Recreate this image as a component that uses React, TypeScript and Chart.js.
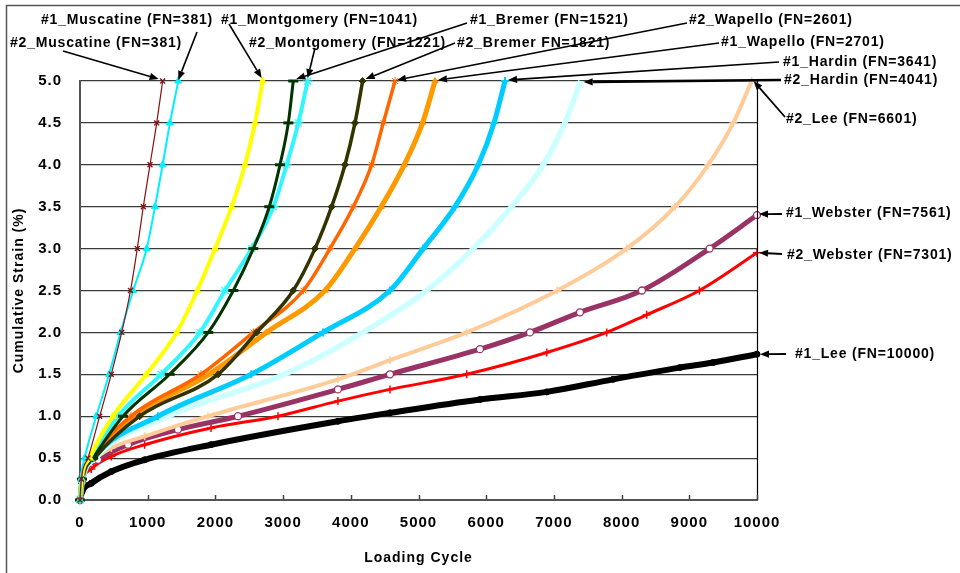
import React, { useEffect, useRef } from "react";
import { Chart, registerables } from "chart.js";

Chart.register(...registerables);

// ---- Data ----
const strainLevels = [0, 0.25, 0.5, 1.0, 1.5, 2.0, 2.5, 3.0, 3.5, 4.0, 4.5, 5.0];

const muscatine2Cycles = [0, 20, 118, 291, 462, 616, 746, 846, 935, 1034, 1133, 1221];
const muscatine1Cycles = [0, 15, 69, 241, 430, 600, 785, 985, 1108, 1221, 1329, 1452];
const montgomery1Cycles = [0, 25, 143, 487, 980, 1428, 1733, 1995, 2240, 2437, 2585, 2698];
const bremer1Cycles = [0, 30, 192, 635, 1325, 1895, 2265, 2560, 2796, 2954, 3077, 3150];
const montgomery2Cycles = [0, 25, 167, 561, 1200, 1772, 2142, 2536, 2856, 3053, 3225, 3363];
const bremer2Cycles = [0, 35, 217, 882, 2040, 2610, 3150, 3471, 3717, 3914, 4062, 4175];
const wapello2Cycles = [0, 30, 177, 753, 1787, 2560, 3298, 3692, 4037, 4308, 4480, 4653];
const wapello1Cycles = [0, 30, 192, 812, 1905, 2757, 3620, 4062, 4450, 4790, 5060, 5244];
const hardin1Cycles = [0, 35, 200, 1152, 2530, 3590, 4579, 5070, 5539, 5883, 6115, 6278];
const hardin2Cycles = [0, 40, 225, 1300, 3020, 4180, 5120, 5809, 6376, 6843, 7163, 7395];

const lee2Cycles = [0, 30, 167, 463, 955, 1890, 3810, 4579, 5712, 7050, 8075, 8790, 9280, 9650, 9921];
const lee2Strain = [0, 0.25, 0.45, 0.62, 0.76, 1.0, 1.44, 1.67, 2.0, 2.5, 3.0, 3.5, 4.0, 4.5, 5.0];

const webster1Cycles = [0, 30, 266, 709, 1447, 2334, 3810, 4579, 5908, 6647, 7385, 8300, 9300, 10000];
const webster1Strain = [0, 0.22, 0.48, 0.66, 0.84, 1.0, 1.32, 1.5, 1.8, 2.0, 2.24, 2.5, 3.0, 3.4];

const webster2Cycles = [0, 30, 167, 463, 955, 1935, 2925, 3810, 4579, 5712, 6895, 7780, 8370, 9150, 10000];
const webster2Strain = [0, 0.2, 0.37, 0.52, 0.66, 0.86, 1.0, 1.18, 1.32, 1.5, 1.76, 2.0, 2.21, 2.5, 2.95];

const lee1Cycles = [0, 30, 167, 463, 955, 1935, 3810, 4579, 5908, 6895, 7875, 8860, 9350, 10000];
const lee1Strain = [0, 0.1, 0.2, 0.34, 0.48, 0.66, 0.94, 1.04, 1.2, 1.29, 1.44, 1.58, 1.64, 1.74];

const xTickStep = 1000;
const yTickStep = 0.5;

// annotation text, text anchor (left, middle), arrow start, target series index, arrow tip offset
const labelDefs = [
  { text: "#1_Muscatine (FN=381)", tx: 41, ty: 20, sx: 197, sy: 32, series: 1, dx: 0, dy: -1, w: 1.6 },
  { text: "#2_Muscatine (FN=381)", tx: 10, ty: 43, sx: 63, sy: 51, series: 0, dx: -4, dy: -2, w: 1.6 },
  { text: "#1_Montgomery (FN=1041)", tx: 221, ty: 20, sx: 229, sy: 24, series: 2, dx: -1, dy: -3, w: 1.6 },
  { text: "#2_Montgomery (FN=1221)", tx: 249, ty: 43, sx: 315, sy: 48, series: 4, dx: 0, dy: -3, w: 1.6 },
  { text: "#1_Bremer (FN=1521)", tx: 470, ty: 20, sx: 467, sy: 23, series: 3, dx: 3, dy: -2, w: 1.6 },
  { text: "#2_Bremer FN=1821)", tx: 457, ty: 43, sx: 455, sy: 43, series: 5, dx: 3, dy: -2, w: 1.6 },
  { text: "#2_Wapello (FN=2601)", tx: 689, ty: 20, sx: 687, sy: 23, series: 6, dx: 2, dy: -1, w: 1.6 },
  { text: "#1_Wapello (FN=2701)", tx: 721, ty: 42, sx: 719, sy: 43, series: 7, dx: 3, dy: -1, w: 1.6 },
  { text: "#1_Hardin (FN=3641)", tx: 783, ty: 62, sx: 779, sy: 62, series: 8, dx: 3, dy: -1, w: 1.6 },
  { text: "#2_Hardin (FN=4041)", tx: 784, ty: 80, sx: 781, sy: 80, series: 9, dx: 3, dy: 1, w: 2.6 },
  { text: "#2_Lee (FN=6601)", tx: 786, ty: 119, sx: 785, sy: 117, series: 10, dx: 2, dy: 0, w: 1.8 },
  { text: "#1_Webster (FN=7561)", tx: 786, ty: 213, sx: 782, sy: 214, series: 11, dx: 2, dy: -1, w: 1.8 },
  { text: "#2_Webster (FN=7301)", tx: 787, ty: 255, sx: 782, sy: 254, series: 12, dx: 2, dy: 0, w: 1.8 },
  { text: "#1_Lee (FN=10000)", tx: 795, ty: 354, sx: 786, sy: 354, series: 13, dx: 3, dy: 0, w: 1.8 },
];

const FONT = "'Liberation Sans', Arial, Helvetica, sans-serif";

function pts(xs: number[], ys: number[]) {
  return xs.map((x, i) => ({ x, y: ys[i] }));
}

function series(
  label: string,
  xs: number[],
  ys: number[],
  color: string,
  pointStyle: string,
  lineWidth: number,
  radius: number,
  pointBorder: number,
  pointFill?: string
) {
  return {
    label,
    data: pts(xs, ys),
    borderColor: color,
    backgroundColor: color,
    borderWidth: lineWidth,
    pointStyle,
    pointRadius: radius,
    pointBorderWidth: pointBorder,
    pointBorderColor: color,
    pointBackgroundColor: pointFill || color,
    cubicInterpolationMode: "monotone",
    fill: false,
    clip: 10,
  };
}

function drawArrow(ctx: CanvasRenderingContext2D, sx: number, sy: number, ex: number, ey: number, w: number) {
  const ang = Math.atan2(ey - sy, ex - sx);
  const len = 9;
  const half = 3.6;
  const bx = ex - len * Math.cos(ang);
  const by = ey - len * Math.sin(ang);
  ctx.strokeStyle = "#000";
  ctx.lineWidth = w;
  ctx.beginPath();
  ctx.moveTo(sx, sy);
  ctx.lineTo(bx, by);
  ctx.stroke();
  ctx.fillStyle = "#000";
  ctx.beginPath();
  ctx.moveTo(ex, ey);
  ctx.lineTo(bx + half * Math.sin(ang), by - half * Math.cos(ang));
  ctx.lineTo(bx - half * Math.sin(ang), by + half * Math.cos(ang));
  ctx.closePath();
  ctx.fill();
}

const decorPlugin = {
  id: "decor",
  beforeDraw(chart: any) {
    (chart.ctx as any).letterSpacing = "1px";
  },
  afterDatasetsDraw(chart: any) {
    const { ctx, chartArea, scales } = chart;
    ctx.save();
    // right border of plot
    ctx.strokeStyle = "#000";
    ctx.lineWidth = 1.2;
    ctx.beginPath();
    ctx.moveTo(chartArea.right + 0.5, chartArea.top);
    ctx.lineTo(chartArea.right + 0.5, chartArea.bottom);
    ctx.stroke();
    // inner x tick marks
    ctx.strokeStyle = "#444";
    ctx.lineWidth = 1.5;
    scales.x.ticks.forEach((t: any) => {
      const px = Math.round(scales.x.getPixelForValue(t.value)) + 0.5;
      ctx.beginPath();
      ctx.moveTo(px, chartArea.bottom);
      ctx.lineTo(px, chartArea.bottom - 5);
      ctx.stroke();
    });
    // outer frame
    ctx.strokeStyle = "#555";
    ctx.lineWidth = 1.5;
    ctx.beginPath();
    ctx.moveTo(6.5, 573);
    ctx.lineTo(6.5, 5.5);
    ctx.lineTo(960, 5.5);
    ctx.stroke();
    // annotations
    (ctx as any).letterSpacing = "0.8px";
    ctx.font = `bold 14px ${FONT}`;
    ctx.textAlign = "left";
    ctx.textBaseline = "middle";
    labelDefs.forEach((l) => {
      const ds = chart.data.datasets[l.series];
      const last = ds.data[ds.data.length - 1];
      const ex = scales.x.getPixelForValue(last.x) + l.dx;
      const ey = scales.y.getPixelForValue(last.y) + l.dy;
      drawArrow(ctx, l.sx, l.sy, ex, ey, l.w);
      ctx.fillStyle = "#000";
      ctx.fillText(l.text, l.tx, l.ty);
    });
    ctx.restore();
  },
};

export default function App() {
  const ref = useRef<HTMLCanvasElement | null>(null);

  useEffect(() => {
    document.body.style.margin = "0";
    if (!ref.current) return;
    const datasets: any[] = [
      series("#2_Muscatine", muscatine2Cycles, strainLevels, "#8B1010", "crossRot", 1.2, 3.5, 1.4),
      series("#1_Muscatine", muscatine1Cycles, strainLevels, "#00F0FF", "triangle", 2, 4, 1),
      series("#1_Montgomery", montgomery1Cycles, strainLevels, "#FFFF00", "triangle", 4, 4, 1),
      series("#1_Bremer", bremer1Cycles, strainLevels, "#003300", "line", 3, 5, 3),
      series("#2_Montgomery", montgomery2Cycles, strainLevels, "#33F5FF", "star", 4, 5, 1.2),
      series("#2_Bremer", bremer2Cycles, strainLevels, "#333300", "rectRot", 3.5, 3.5, 1),
      series("#2_Wapello", wapello2Cycles, strainLevels, "#FF6600", "star", 3.5, 4, 1),
      series("#1_Wapello", wapello1Cycles, strainLevels, "#FF9900", "triangle", 5, 3.5, 1),
      series("#1_Hardin", hardin1Cycles, strainLevels, "#00CCFF", "cross", 5, 4, 2),
      series("#2_Hardin", hardin2Cycles, strainLevels, "#CCFFFF", "circle", 5.5, 0, 1),
      series("#2_Lee", lee2Cycles, lee2Strain, "#FFCC99", "cross", 4, 4, 1.5),
      series("#1_Webster", webster1Cycles, webster1Strain, "#993366", "circle", 5, 3.5, 1.3, "#ffffff"),
      series("#2_Webster", webster2Cycles, webster2Strain, "#FF0000", "cross", 3, 4, 1.5),
      series("#1_Lee", lee1Cycles, lee1Strain, "#000000", "circle", 6, 3, 1),
    ];

    const chart = new Chart(ref.current, {
      type: "line",
      data: { datasets },
      plugins: [decorPlugin as any],
      options: {
        responsive: false,
        animation: false,
        devicePixelRatio: 1,
        parsing: false as any,
        layout: { padding: { left: 10, top: 81, right: 203, bottom: 3 } },
        plugins: {
          legend: { display: false },
          tooltip: { enabled: false },
        },
        scales: {
          x: {
            type: "linear",
            min: 0,
            max: 10000,
            ticks: {
              stepSize: xTickStep,
              autoSkip: false,
              maxRotation: 0,
              padding: 14,
              color: "#000",
              font: { family: FONT, size: 15, weight: "bold" },
              callback: (v: any) => String(v),
            },
            grid: { drawOnChartArea: false, drawTicks: false },
            border: { display: true, color: "#555", width: 2 },
            title: {
              display: true,
              text: "Loading Cycle",
              color: "#000",
              font: { family: FONT, size: 14, weight: "bold" },
              padding: { top: 0, bottom: 3 },
            },
            afterFit: (s: any) => {
              s.height = 70;
            },
          } as any,
          y: {
            type: "linear",
            min: 0,
            max: 5,
            ticks: {
              stepSize: yTickStep,
              padding: 18,
              color: "#000",
              font: { family: FONT, size: 15, weight: "bold" },
              callback: (v: any) => Number(v).toFixed(1),
            },
            grid: { color: "#3a3a3a", lineWidth: 1.2, drawTicks: false },
            border: { display: true, color: "#555", width: 2 },
            title: {
              display: true,
              text: "Cumulative Strain (%)",
              color: "#000",
              font: { family: FONT, size: 14, weight: "bold" },
              padding: { top: 1, bottom: 0 },
            },
            afterFit: (s: any) => {
              s.width = 70;
            },
          } as any,
        },
      },
    });
    return () => chart.destroy();
  }, []);

  return <canvas ref={ref} width={960} height={573} style={{ display: "block" }} />;
}
